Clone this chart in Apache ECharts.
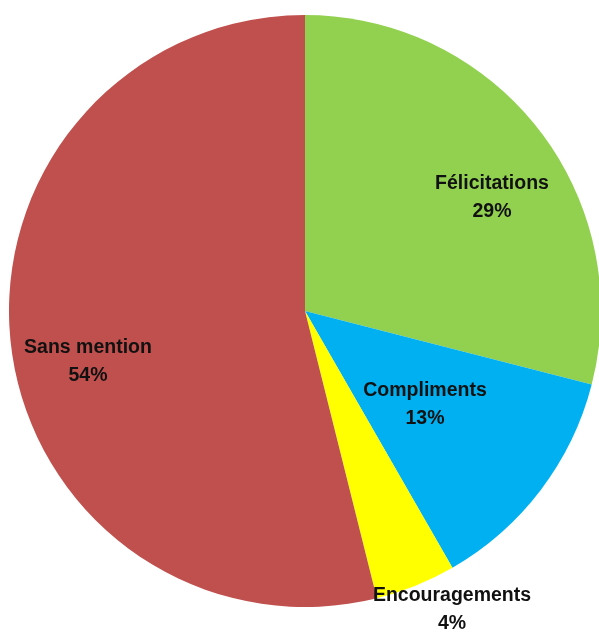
<!DOCTYPE html>
<html>
<head>
<meta charset="utf-8">
<script src="https://cdn.jsdelivr.net/npm/echarts@6/dist/echarts.min.js"></script>
<style>
html,body{margin:0;padding:0;background:#fff;}
#chart{width:599px;height:633px;}
</style>
</head>
<body>
<div id="chart"></div>
<script>
const categories = ['Félicitations', 'Compliments', 'Encouragements', 'Sans mention'];
const values = [29.0, 12.7, 4.4, 53.9];
const colors = ['#92D050', '#00B0F0', '#FFFF00', '#C0504D'];

const labelPos = [[492, 198], [425, 405], [452, 610], [88, 362]];

const chart = echarts.init(document.getElementById('chart'), null, {renderer: 'canvas'});
chart.setOption({
  animation: false,
  series: [{
    type: 'pie',
    center: [305, 311],
    radius: 296,
    startAngle: 90,
    clockwise: true,
    avoidLabelOverlap: false,
    data: categories.map((c, i) => ({name: c, value: values[i], itemStyle: {color: colors[i]}})),
    itemStyle: {borderWidth: 0},
    emphasis: {disabled: true},
    label: {
      show: true,
      position: 'inside',
      formatter: p => p.name + '\n' + Math.round(p.percent) + '%',
      fontFamily: 'Liberation Sans',
      fontWeight: 'bold',
      fontSize: 19.5,
      lineHeight: 28,
      color: '#111',
      align: 'center'
    },
    labelLine: {show: false},
    labelLayout: function (params) {
      const p = labelPos[params.dataIndex];
      return {x: p[0], y: p[1], align: 'center', verticalAlign: 'middle'};
    }
  }]
});
</script>
</body>
</html>
